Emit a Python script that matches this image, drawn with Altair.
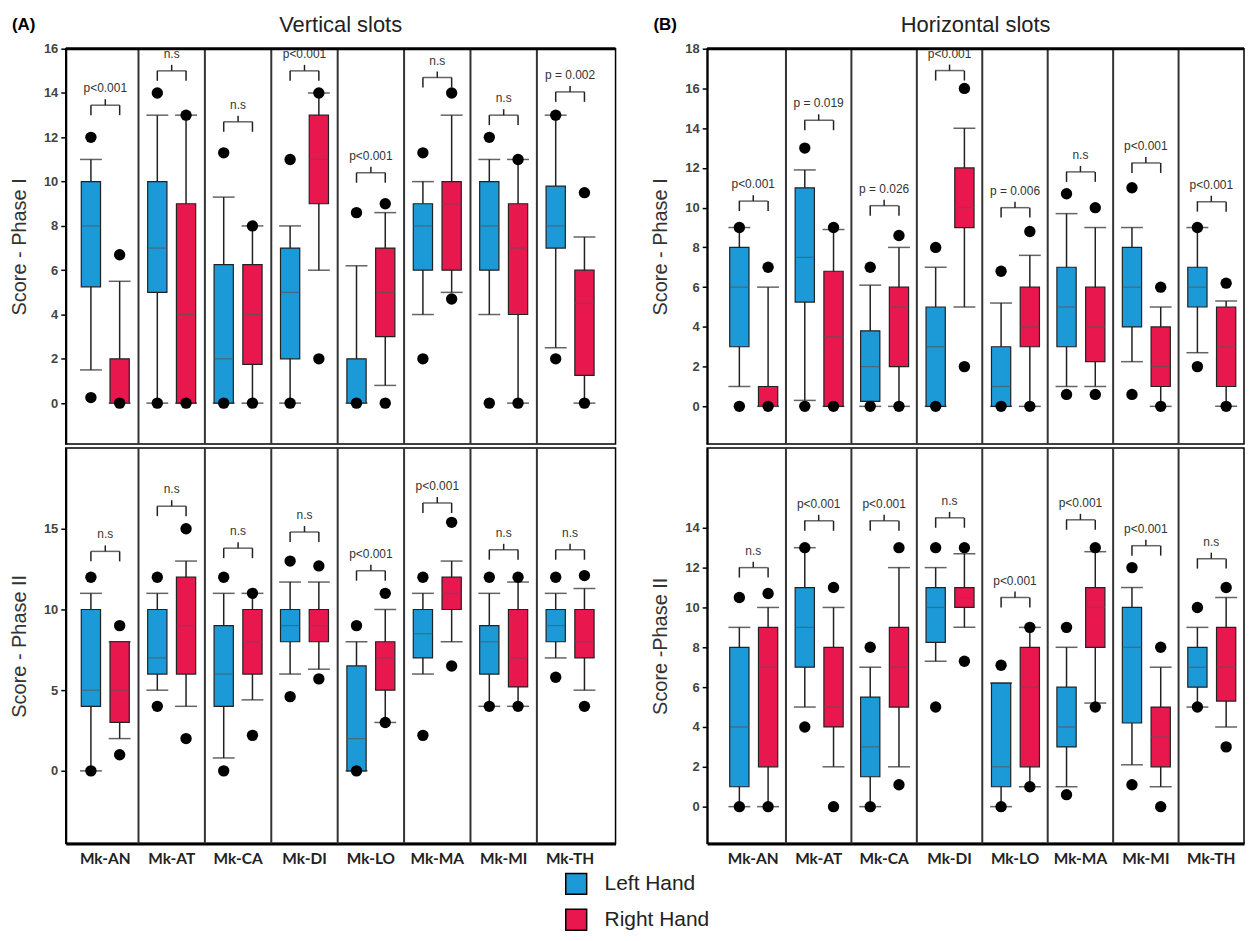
import altair as alt
import pandas as pd

cats = ["Mk-AN", "Mk-AT", "Mk-CA", "Mk-DI", "Mk-LO", "Mk-MA", "Mk-MI", "Mk-TH"]
hands = ["Left Hand", "Right Hand"]

# ---------- (A) Vertical slots, Phase I ----------
A1_L_wlo = [1.5, 0, 0, 0, 0, 4, 4, 2.5]
A1_L_q1 = [5.25, 5, 0, 2, 0, 6, 6, 7]
A1_L_med = [8, 7, 2, 5, 0, 8, 8, 8]
A1_L_q3 = [10, 10, 6.25, 7, 2, 9, 10, 9.8]
A1_L_whi = [11, 13, 9.3, 8, 6.2, 10, 11, 13]
A1_L_ohi = [12, 14, 11.3, 11, 8.6, 11.3, 12, 13]
A1_L_olo = [0.25, 0, 0, 0, 0, 2, 0, 2]
A1_R_wlo = [0, 0, 0, 6, 0.8, 5, 0, 0]
A1_R_q1 = [0, 0, 1.75, 9, 3, 6, 4, 1.25]
A1_R_med = [0, 4, 4, 11, 5, 9, 7, 4.5]
A1_R_q3 = [2, 9, 6.25, 13, 7, 10, 9, 6]
A1_R_whi = [5.5, 13, 8, 14, 8.6, 13, 11, 7.5]
A1_R_ohi = [6.7, 13, 8, 14, 9, 14, 11, 9.5]
A1_R_olo = [0, 0, 0, 2, 0, 4.7, 0, 0]
A1_brk = [13.45, 15.0, 12.7, 15.0, 10.4, 14.7, 13.0, 14.05]
A1_lab = ["p<0.001", "n.s", "n.s", "p<0.001", "p<0.001", "n.s", "n.s", "p = 0.002"]

# ---------- (A) Vertical slots, Phase II ----------
A2_L_wlo = [0, 5, 0.8, 6, 0, 6, 4, 7]
A2_L_q1 = [4, 6, 4, 8, 0, 7, 6, 8]
A2_L_med = [5, 7, 6, 9, 2, 8.5, 8, 9]
A2_L_q3 = [10, 10, 9, 10, 6.5, 10, 9, 10]
A2_L_whi = [11, 11, 11, 11.7, 8, 11, 11, 11]
A2_L_ohi = [12, 12, 12, 13, 9, 12, 12, 12]
A2_L_olo = [0, 4, 0, 4.6, 0, 2.2, 4, 5.8]
A2_R_wlo = [2, 4, 4.4, 6.3, 3, 8, 4, 5]
A2_R_q1 = [3, 6, 6, 8, 5, 10, 5.2, 7]
A2_R_med = [5, 9, 8, 9, 7, 11, 7, 8]
A2_R_q3 = [8, 12, 10, 10, 8, 12, 10, 10]
A2_R_whi = [8, 13, 11, 11.7, 10, 13, 11.7, 11.3]
A2_R_ohi = [9, 15, 11, 12.7, 11, 15.4, 12, 12.1]
A2_R_olo = [1, 2, 2.2, 5.7, 3, 6.5, 4, 4]
A2_brk = [13.6, 16.4, 13.8, 14.8, 12.4, 16.6, 13.7, 13.7]
A2_lab = ["n.s", "n.s", "n.s", "n.s", "p<0.001", "p<0.001", "n.s", "n.s"]

# ---------- (B) Horizontal slots, Phase I ----------
B1_L_wlo = [1, 0.3, 0, 0, 0, 1, 2.25, 2.7]
B1_L_q1 = [3, 5.25, 0.25, 0, 0, 3, 4, 5]
B1_L_med = [6, 7.5, 2, 3, 1, 5, 6, 6]
B1_L_q3 = [8, 11, 3.8, 5, 3, 7, 8, 7]
B1_L_whi = [9, 11.9, 6.1, 7, 5.2, 9.7, 9, 9]
B1_L_ohi = [9, 13, 7, 8, 6.8, 10.7, 11, 9]
B1_L_olo = [0, 0, 0, 0, 0, 0.6, 0.6, 2]
B1_R_wlo = [0, 0, 0, 5, 0, 1, 0, 0]
B1_R_q1 = [0, 0, 2, 9, 3, 2.25, 1, 1]
B1_R_med = [0, 3.5, 5, 10, 4, 4, 2, 3]
B1_R_q3 = [1, 6.8, 6, 12, 6, 6, 4, 5]
B1_R_whi = [6, 8.9, 8, 14, 7.6, 9, 5, 5.3]
B1_R_ohi = [7, 9, 8.6, 16, 8.8, 10, 6, 6.2]
B1_R_olo = [0, 0, 0, 2, 0, 0.6, 0, 0]
B1_brk = [10.33, 14.4, 10.1, 16.9, 10.0, 11.8, 12.25, 10.3]
B1_lab = ["p<0.001", "p = 0.019", "p = 0.026", "p<0.001", "p = 0.006", "n.s", "p<0.001", "p<0.001"]

# ---------- (B) Horizontal slots, Phase II ----------
B2_L_wlo = [0, 5, 0, 7.3, 0, 1, 2.1, 5]
B2_L_q1 = [1, 7, 1.5, 8.25, 1, 3, 4.2, 6]
B2_L_med = [4, 9, 3, 10, 2, 4, 8, 7]
B2_L_q3 = [8, 11, 5.5, 11, 6.2, 6, 10, 8]
B2_L_whi = [9, 13, 7, 12, 6.2, 8, 11, 9]
B2_L_ohi = [10.5, 13, 8, 13, 7.1, 9, 12, 10]
B2_L_olo = [0, 4, 0, 5, 0, 0.6, 1.1, 5]
B2_R_wlo = [0, 2, 2, 9, 1, 5.2, 1, 4]
B2_R_q1 = [2, 4, 5, 10, 2, 8, 2, 5.3]
B2_R_med = [7, 5, 7, 10.5, 6, 10, 3.5, 7]
B2_R_q3 = [9, 8, 9, 11, 8, 11, 5, 9]
B2_R_whi = [10, 10, 12, 12.7, 9, 12.8, 7, 10.5]
B2_R_ohi = [10.7, 11, 13, 13, 9, 13, 8, 11]
B2_R_olo = [0, 0, 1.1, 7.3, 1, 5, 0, 3]
B2_brk = [12.0, 14.35, 14.35, 14.5, 10.5, 14.4, 13.1, 12.45]
B2_lab = ["n.s", "p<0.001", "p<0.001", "n.s", "p<0.001", "p<0.001", "p<0.001", "n.s"]

panel_titles = ["Vertical slots", "Horizontal slots"]
panel_letters = ["(A)", "(B)"]

BLUE = "#1b9ad7"
RED = "#e8184f"
FONT = "Liberation Sans"
INK = "#222222"


def panel(L, R, brk, lab, ydomain, yticks, ytitle, top, width, pad_outer, align,
          letter=None, title=None):
    rows, outs, legs = [], [], []
    for i, c in enumerate(cats):
        for h, s in zip(hands, (L, R)):
            rows.append(dict(cat=c, hand=h, wlo=s[0][i], q1=s[1][i], med=s[2][i],
                             q3=s[3][i], whi=s[4][i]))
            outs.append(dict(cat=c, hand=h, val=s[5][i]))
            outs.append(dict(cat=c, hand=h, val=s[6][i]))
            legs.append(dict(cat=c, hand=h, by=brk[i]))
    box = pd.DataFrame(rows)
    out = pd.DataFrame(outs)
    leg = pd.DataFrame(legs)
    br = pd.DataFrame(dict(cat=cats, by=brk, lab=lab))
    sep = pd.DataFrame(dict(cat=cats[1:]))

    xs = alt.Scale(domain=cats, paddingInner=0, paddingOuter=pad_outer, align=align)
    if top:
        xaxis = None
    else:
        xaxis = alt.Axis(title=None, labelAngle=0, ticks=False, labelFont="Lato",
                         labelFontWeight="bold", labelFontSize=15.5, labelColor="#222",
                         domainWidth=3, domainColor="black", labelPadding=8)
    X = alt.X("cat:N", scale=xs, axis=xaxis, title=None)
    XO = alt.XOffset("hand:N", scale=alt.Scale(domain=hands, paddingInner=0.33,
                                               paddingOuter=0.32))
    ys = alt.Scale(domain=ydomain, nice=False, zero=False)
    yaxis = alt.Axis(values=yticks, title=ytitle, grid=False, tickColor="black",
                     tickSize=5, tickWidth=1.5, domainColor="black", domainWidth=2,
                     labelFont=FONT, labelFontWeight="bold", labelFontSize=13,
                     labelColor="#444", labelPadding=3, titleFont=FONT,
                     titleFontSize=20, titleFontWeight="normal", titleColor="#333",
                     titlePadding=14)

    def Y(f):
        return alt.Y(f, scale=ys, axis=yaxis)

    color = alt.Color("hand:N", scale=alt.Scale(domain=hands, range=[BLUE, RED]),
                      legend=alt.Legend(title=None, orient="none", legendX=501,
                                        legendY=827, direction="vertical",
                                        symbolType="square", symbolSize=441,
                                        symbolStrokeColor="black",
                                        symbolStrokeWidth=1.5, labelFont=FONT,
                                        labelFontSize=21, labelColor="#222",
                                        rowPadding=9, labelOffset=17))

    seps = alt.Chart(sep).mark_rule(color="#333", strokeWidth=2).encode(
        x=alt.X("cat:N", scale=xs, axis=xaxis, title=None, bandPosition=0))
    bb = alt.Chart(box)
    whisk = bb.mark_rule(color=INK, strokeWidth=1.5).encode(
        x=X, xOffset=XO, y=Y("wlo:Q"), y2="whi:Q")
    capl = bb.mark_tick(color=INK, size=22, thickness=1.5, orient="horizontal").encode(
        x=X, xOffset=XO, y=Y("wlo:Q"))
    caph = bb.mark_tick(color=INK, size=22, thickness=1.5, orient="horizontal").encode(
        x=X, xOffset=XO, y=Y("whi:Q"))
    bars = bb.mark_bar(stroke=INK, strokeWidth=1.2, opacity=1).encode(
        x=X, xOffset=XO, y=Y("q1:Q"), y2="q3:Q", color=color)
    med = bb.mark_tick(color="#555", size=19, thickness=1.2, orient="horizontal").encode(
        x=X, xOffset=XO, y=Y("med:Q"))
    pts = alt.Chart(out).mark_circle(size=130, color="black", opacity=1).encode(
        x=X, xOffset=XO, y=Y("val:Q"))
    bh = alt.Chart(br).mark_tick(color=INK, size=29, thickness=1.5,
                                 orient="horizontal").encode(x=X, y=Y("by:Q"))
    bl = alt.Chart(leg).mark_rule(color=INK, strokeWidth=1.5, y2Offset=10).encode(
        x=X, xOffset=XO, y=Y("by:Q"), y2="by:Q")
    bn = alt.Chart(br).mark_rule(color=INK, strokeWidth=1.5, yOffset=-6).encode(
        x=X, y=Y("by:Q"), y2="by:Q")
    bt = alt.Chart(br).mark_text(dy=-17, fontSize=12, font=FONT, color="#333").encode(
        x=X, y=Y("by:Q"), text="lab:N")
    layers = [seps, whisk, capl, caph, bars, med, pts, bh, bl, bn, bt]
    if top:
        one = pd.DataFrame(dict(t=[letter], ttl=[title]))
        topline = alt.Chart(one).mark_rule(color="black", strokeWidth=3).encode(
            y=alt.value(0))
        lt = alt.Chart(one).mark_text(fontSize=17, fontWeight="bold", font=FONT,
                                      align="left", baseline="middle",
                                      color="black").encode(
            x=alt.value(-54), y=alt.value(-24), text="t:N")
        tt = alt.Chart(one).mark_text(fontSize=22, font=FONT, align="center",
                                      baseline="middle", color="#222").encode(
            x=alt.value(width / 2), y=alt.value(-24), text="ttl:N")
        layers += [topline, lt, tt]
    return alt.layer(*layers).properties(width=width, height=397)


A1 = panel((A1_L_wlo, A1_L_q1, A1_L_med, A1_L_q3, A1_L_whi, A1_L_ohi, A1_L_olo),
           (A1_R_wlo, A1_R_q1, A1_R_med, A1_R_q3, A1_R_whi, A1_R_ohi, A1_R_olo),
           A1_brk, A1_lab, [-1.85, 16], list(range(0, 17, 2)), "Score - Phase I",
           True, 552, 0.14, 0.34, panel_letters[0], panel_titles[0])
A2 = panel((A2_L_wlo, A2_L_q1, A2_L_med, A2_L_q3, A2_L_whi, A2_L_ohi, A2_L_olo),
           (A2_R_wlo, A2_R_q1, A2_R_med, A2_R_q3, A2_R_whi, A2_R_ohi, A2_R_olo),
           A2_brk, A2_lab, [-4.5, 20], [0, 5, 10, 15], "Score - Phase II",
           False, 552, 0.14, 0.34)
B1 = panel((B1_L_wlo, B1_L_q1, B1_L_med, B1_L_q3, B1_L_whi, B1_L_ohi, B1_L_olo),
           (B1_R_wlo, B1_R_q1, B1_R_med, B1_R_q3, B1_R_whi, B1_R_ohi, B1_R_olo),
           B1_brk, B1_lab, [-1.9, 18], list(range(0, 19, 2)), "Score - Phase I",
           True, 539, 0.102, 1, panel_letters[1], panel_titles[1])
B2 = panel((B2_L_wlo, B2_L_q1, B2_L_med, B2_L_q3, B2_L_whi, B2_L_ohi, B2_L_olo),
           (B2_R_wlo, B2_R_q1, B2_R_med, B2_R_q3, B2_R_whi, B2_R_ohi, B2_R_olo),
           B2_brk, B2_lab, [-1.85, 18], list(range(0, 15, 2)), "Score -Phase II",
           False, 539, 0.102, 1)

colA = alt.vconcat(A1, A2, spacing=0)
colB = alt.vconcat(B1, B2, spacing=0)

chart = alt.hconcat(colA, colB, spacing=31).properties(
    padding={"left": 0, "top": 3, "right": 0, "bottom": 0}, background="white"
).configure_view(stroke="black", strokeWidth=1.5)

chart.save("out.html", embed_options={"renderer": "svg", "actions": False})
